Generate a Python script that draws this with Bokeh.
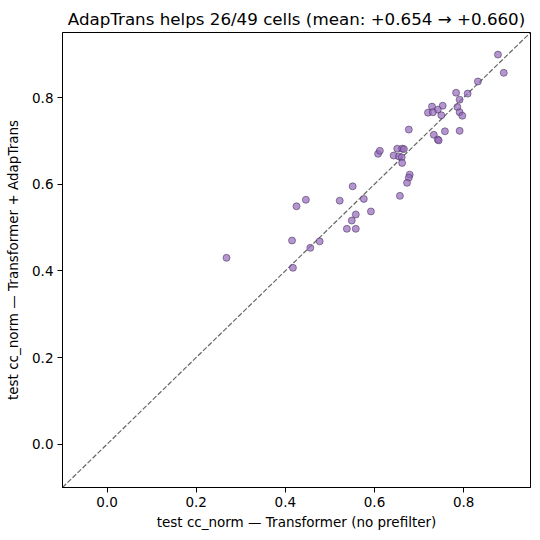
from bokeh.plotting import figure
from bokeh.models import Range1d, FixedTicker, PrintfTickFormatter
from bokeh.embed import file_html
from bokeh.resources import INLINE

baseline = [0.268, 0.415, 0.417, 0.425, 0.446, 0.456, 0.477, 0.522, 0.551, 0.576,
            0.558, 0.592, 0.549, 0.538, 0.558,
            0.608, 0.612, 0.651, 0.662, 0.666, 0.643, 0.655, 0.661, 0.662, 0.679,
            0.677, 0.673, 0.657, 0.677,
            0.877, 0.890, 0.832, 0.809, 0.783, 0.791, 0.786, 0.791, 0.797, 0.753,
            0.742, 0.729, 0.720, 0.731, 0.750, 0.791, 0.758, 0.733, 0.742, 0.744]
adaptrans = [0.430, 0.470, 0.407, 0.549, 0.564, 0.453, 0.468, 0.562, 0.595, 0.566,
             0.530, 0.537, 0.516, 0.497, 0.497,
             0.670, 0.677, 0.682, 0.682, 0.681, 0.666, 0.664, 0.662, 0.649, 0.622,
             0.615, 0.603, 0.573, 0.726,
             0.899, 0.857, 0.837, 0.809, 0.811, 0.795, 0.778, 0.766, 0.758, 0.781,
             0.772, 0.779, 0.765, 0.766, 0.759, 0.723, 0.722, 0.714, 0.703, 0.701]
lims = [-0.1, 0.95]
ticks = [0.0, 0.2, 0.4, 0.6, 0.8]
title = "AdapTrans helps 26/49 cells (mean: +0.654 \u2192 +0.660)"
xlabel = "test cc_norm \u2014 Transformer (no prefilter)"
ylabel = "test cc_norm \u2014 Transformer + AdapTrans"

p = figure(width=540, height=540, output_backend="svg", toolbar_location=None,
           x_range=Range1d(*lims), y_range=Range1d(*lims),
           min_border_left=62, min_border_right=10, min_border_top=32, min_border_bottom=53,
           title=title)
p.title.text_font = "DejaVu Sans"
p.title.text_font_size = "16.7px"
p.title.text_font_style = "normal"
p.title.text_color = "black"
p.title.align = "center"
p.title.offset = 0
p.title.standoff = 8

p.xgrid.visible = False
p.ygrid.visible = False
p.outline_line_color = "black"
p.outline_line_alpha = 1
p.outline_line_width = 1

for ax, lab in ((p.xaxis, xlabel), (p.yaxis, ylabel)):
    ax.ticker = FixedTicker(ticks=ticks)
    ax.formatter = PrintfTickFormatter(format="%.1f")
    ax.axis_label = lab
    ax.axis_label_text_font = "DejaVu Sans"
    ax.axis_label_text_font_size = "13.5px"
    ax.axis_label_text_font_style = "normal"
    ax.axis_label_text_color = "black"
    ax.major_label_text_font = "DejaVu Sans"
    ax.major_label_text_font_size = "13.5px"
    ax.major_label_text_color = "black"
    ax.minor_tick_line_color = None
    ax.major_tick_out = 5
    ax.major_tick_in = 0
    ax.axis_line_color = "black"
    ax.major_tick_line_color = "black"
    ax.major_label_standoff = 4

p.xaxis.axis_label_standoff = 4
p.yaxis.axis_label_standoff = 8

p.line(lims, lims, line_color="black", line_alpha=0.6, line_width=1.2, line_dash="5 2")
p.scatter(baseline, adaptrans, size=7, fill_color="#9467bd", fill_alpha=0.7,
          line_color="#3a2a4a", line_alpha=0.75, line_width=0.7)

open("out.html", "w").write(file_html(p, INLINE))
